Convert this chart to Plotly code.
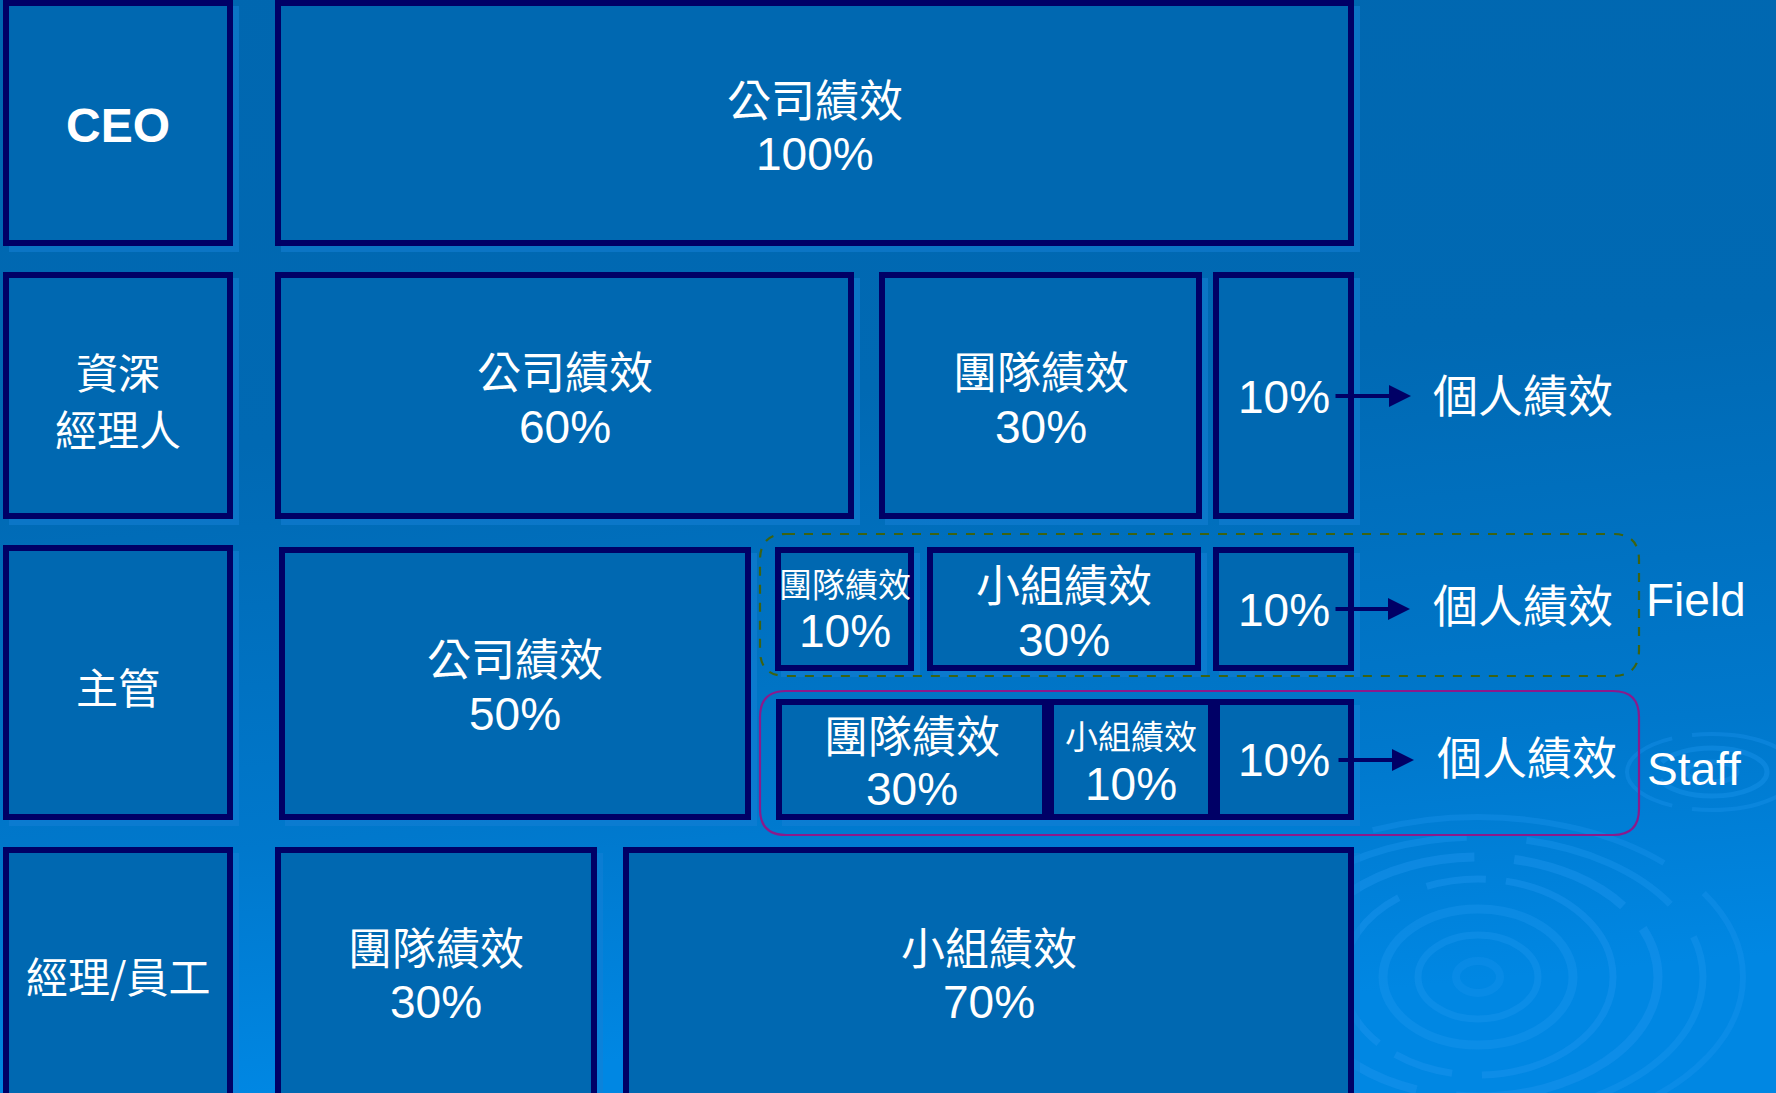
import base64
import plotly.graph_objects as go

W, H = 1776, 1093

# ---------------- data ----------------
roles = ["CEO", "資深", "經理人", "主管", "經理/員工"]
metric_company = "公司績效"
metric_team = "團隊績效"
metric_group = "小組績效"
metric_personal = "個人績效"

ceo_weights = {"公司績效": "100%"}
senior_weights = {"公司績效": "60%", "團隊績效": "30%", "個人績效": "10%"}
field_weights = {"公司績效": "50%", "團隊績效": "10%", "小組績效": "30%", "個人績效": "10%"}
staff_weights = {"公司績效": "50%", "團隊績效": "30%", "小組績效": "10%", "個人績效": "10%"}
employee_weights = {"團隊績效": "30%", "小組績效": "70%"}
group_labels = ["Field", "Staff"]
page_number = "58"

# ---------------- layout (pixel geometry) ----------------
NAVY = "#000066"
BOXFILL = "#0068B1"
WHITE = "#FFFFFF"
CJK = "Noto Sans CJK TC"
LAT = "Liberation Sans, Arial, sans-serif"

# role column boxes (outer x0, y0, x1, y1)
role_boxes = [(3, 0, 233, 246), (3, 272, 233, 519), (3, 545, 233, 820), (3, 847, 233, 1125)]
# which box each role text line sits in, and its y
role_box_index = [0, 1, 1, 2, 3]
role_text_y = [125, 370, 427, 685, 974]

# content boxes: (x0,y0,x1,y1, metric, weight, label_y, pct_y, cjk_size)
content = [
    (275, 0, 1354, 246, metric_company, ceo_weights["公司績效"], 98, 154, 44),
    (275, 272, 854, 519, metric_company, senior_weights["公司績效"], 370, 427, 44),
    (879, 272, 1202, 519, metric_team, senior_weights["團隊績效"], 370, 427, 44),
    (1213, 272, 1354, 519, None, senior_weights["個人績效"], None, 397, 44),
    (279, 547, 751, 820, metric_company, field_weights["公司績效"], 657, 714, 44),
    (775, 547, 914, 671, metric_team, field_weights["團隊績效"], 583, 631, 33),
    (927, 547, 1201, 671, metric_group, field_weights["小組績效"], 583, 640, 44),
    (1213, 547, 1354, 671, None, field_weights["個人績效"], None, 610, 44),
    (776, 699, 1048, 820, metric_team, staff_weights["團隊績效"], 734, 789, 44),
    (1048, 699, 1214, 820, metric_group, staff_weights["小組績效"], 735, 784, 33),
    (1214, 699, 1354, 820, None, staff_weights["個人績效"], None, 760, 44),
    (275, 847, 597, 1125, metric_team, employee_weights["團隊績效"], 946, 1002, 44),
    (623, 847, 1354, 1125, metric_group, employee_weights["小組績效"], 946, 1002, 44),
]

arrows = [(1334, 1411, 396), (1334, 1410, 609), (1337, 1414, 760)]
personal_text = [(1523, 393), (1523, 603), (1527, 755)]
group_frames = [(760, 534, 1639, 676, "#3D6312", "dash"), (760, 691, 1639, 835, "#8A1A8C", "solid")]
group_text = [(1696, 600), (1694, 769)]

# ---------------- background (svg gradient + ripples) ----------------
def ellipse(cx, cy, rx, ry, sw, dash, op):
    d = f' stroke-dasharray="{dash}"' if dash else ""
    return (f'<ellipse cx="{cx}" cy="{cy}" rx="{rx}" ry="{ry}" fill="none" '
            f'stroke="#1C95EE" stroke-width="{sw}" stroke-opacity="{op}"{d}/>')

rings = []
cx, cy = 1478, 977
for rx, ry, sw, dash, op in [
    (22, 16, 8, None, 0.3), (60, 42, 7, None, 0.4), (95, 68, 9, None, 0.4),
    (135, 98, 7, "180 30 60 20", 0.45), (180, 120, 9, "260 40 120 30", 0.45),
    (225, 140, 7, "300 60 160 40", 0.4), (265, 160, 6, "200 80 300 50", 0.35)]:
    rings.append(ellipse(cx, cy, rx, ry, sw, dash, op))
for rx, ry, sw, op in [(25, 10, 5, 0.35), (55, 24, 5, 0.4), (85, 38, 4, 0.35)]:
    rings.append(ellipse(1712, 772, rx, ry, sw, "120 20", op))

svg = f'''<svg xmlns="http://www.w3.org/2000/svg" width="{W}" height="{H}" viewBox="0 0 {W} {H}">
<defs><linearGradient id="g" x1="0" y1="0" x2="0.15" y2="1">
<stop offset="0" stop-color="#0067B0"/><stop offset="0.42" stop-color="#0069B3"/>
<stop offset="0.78" stop-color="#0078CC"/><stop offset="1" stop-color="#0087E3"/>
</linearGradient></defs>
<rect x="0" y="0" width="{W}" height="{H}" fill="url(#g)"/>
{''.join(rings)}
</svg>'''
bg_uri = "data:image/svg+xml;base64," + base64.b64encode(svg.encode("utf-8")).decode()

fig = go.Figure()
fig.add_trace(go.Scatter(x=[0, W], y=[0, H], mode="markers", marker=dict(opacity=0),
                         hoverinfo="skip", showlegend=False))

shapes = []
annotations = []
LW = 6


def add_box(x0, y0, x1, y1):
    # light shadow strip on right / bottom
    shapes.append(dict(type="rect", x0=x0 + 6, y0=y0 + 6, x1=x1 + 6, y1=y1 + 6,
                       line=dict(width=0), fillcolor="#1480D6", opacity=0.55, layer="above"))
    shapes.append(dict(type="rect", x0=x0 + LW / 2, y0=y0 + LW / 2, x1=x1 - LW / 2, y1=y1 - LW / 2,
                       line=dict(color=NAVY, width=LW), fillcolor=BOXFILL, layer="above"))


for b in role_boxes:
    add_box(*b)
for c in content:
    add_box(*c[:4])

# group frames (rounded)
r = 26
for x0, y0, x1, y1, col, dash in group_frames:
    path = (f"M {x0 + r},{y0} L {x1 - r},{y0} Q {x1},{y0} {x1},{y0 + r} L {x1},{y1 - r} "
            f"Q {x1},{y1} {x1 - r},{y1} L {x0 + r},{y1} Q {x0},{y1} {x0},{y1 - r} "
            f"L {x0},{y0 + r} Q {x0},{y0} {x0 + r},{y0} Z")
    shapes.append(dict(type="path", path=path, line=dict(color=col, width=2.2, dash=dash), layer="above"))

# role labels
for role, bi, ty in zip(roles, role_box_index, role_text_y):
    b = role_boxes[bi]
    xc = (b[0] + b[2]) / 2
    if role == "CEO":
        annotations.append(dict(x=xc, y=ty, text="<b>CEO</b>", showarrow=False,
                                font=dict(family=LAT, size=48, color=WHITE)))
    else:
        annotations.append(dict(x=xc, y=ty, text=role, showarrow=False,
                                font=dict(family=CJK, size=42, color=WHITE)))

# content labels
for x0, y0, x1, y1, metric, weight, ly, py, sz in content:
    xc = (x0 + x1) / 2
    if metric:
        annotations.append(dict(x=xc, y=ly, text=metric, showarrow=False,
                                font=dict(family=CJK, size=sz, color=WHITE)))
    annotations.append(dict(x=xc, y=py, text=weight, showarrow=False,
                            font=dict(family=LAT, size=46, color=WHITE)))

# arrows + personal text
for (xs, xt, ya), (tx, ty) in zip(arrows, personal_text):
    annotations.append(dict(x=xt, y=ya, ax=xs, ay=ya, xref="x", yref="y", axref="x", ayref="y",
                            text="", showarrow=True, arrowhead=2, arrowsize=1.1, arrowwidth=4,
                            arrowcolor=NAVY))
    annotations.append(dict(x=tx, y=ty, text=metric_personal, showarrow=False,
                            font=dict(family=CJK, size=45, color=WHITE)))

for lab, (tx, ty) in zip(group_labels, group_text):
    annotations.append(dict(x=tx, y=ty, text=lab, showarrow=False,
                            font=dict(family=LAT, size=46, color=WHITE)))

annotations.append(dict(x=1662, y=1086, text=page_number, showarrow=False, yanchor="top",
                        font=dict(family=LAT, size=40, color=WHITE)))

fig.update_layout(
    width=W, height=H, margin=dict(l=0, r=0, t=0, b=0),
    paper_bgcolor="#0068B0", plot_bgcolor="rgba(0,0,0,0)",
    xaxis=dict(range=[0, W], visible=False, fixedrange=True),
    yaxis=dict(range=[H, 0], visible=False, fixedrange=True),
    images=[dict(source=bg_uri, xref="paper", yref="paper", x=0, y=1, sizex=1, sizey=1,
                 sizing="stretch", xanchor="left", yanchor="top", layer="below")],
    shapes=shapes, annotations=annotations, showlegend=False,
)
fig.write_html("out.html", config={"displayModeBar": False})
